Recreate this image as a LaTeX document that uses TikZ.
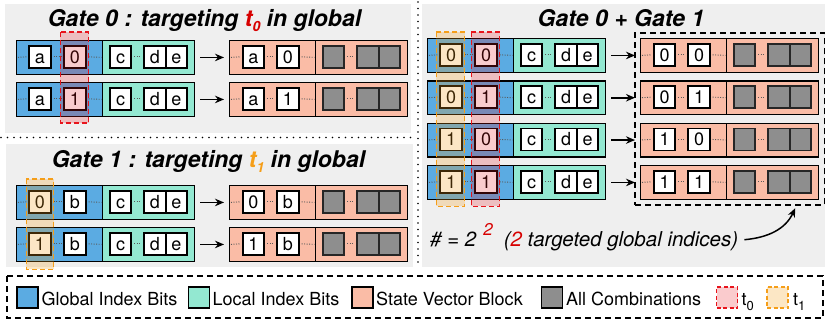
\documentclass[tikz,border=0pt]{standalone}
\usepackage{fontspec}
\setmainfont{TeX Gyre Heros}
\usetikzlibrary{arrows.meta,calc,fit}
\definecolor{gblue}{RGB}{91,171,226}
\definecolor{lteal}{RGB}{147,232,209}
\definecolor{salm}{RGB}{250,188,166}
\definecolor{cgray}{RGB}{142,142,142}
\definecolor{panel}{RGB}{239,239,239}
\definecolor{tred}{RGB}{232,20,28}
\definecolor{torange}{RGB}{245,158,25}
\definecolor{tredtxt}{RGB}{215,0,0}
\tikzset{
 seg/.style={draw=black, line width=1.4pt, minimum height=33.5pt, inner sep=0pt, anchor=north west},
 bitbox/.style={draw=black, fill=white, line width=1.6pt, minimum width=21.5pt, minimum height=22pt, inner sep=0pt, text height=12.9pt, text depth=0pt, font=\fontsize{18}{18}\selectfont},
 combo/.style={draw=black!85, fill=cgray, line width=1.6pt, minimum width=21.5pt, minimum height=22pt, inner sep=0pt},
 dots/.style={draw=black!65, line width=0.9pt, dash pattern=on 1pt off 1.5pt, shorten <=2pt, shorten >=2pt},
 flow/.style={-{Stealth[length=9pt,width=7.5pt]}, line width=1.5pt},
 hlred/.style={draw=tred, fill=tred, fill opacity=0.22, line width=1.6pt, dash pattern=on 5pt off 3pt},
 hlorange/.style={draw=torange, fill=torange, fill opacity=0.25, line width=1.6pt, dash pattern=on 5pt off 3pt},
 panelbg/.style={fill=panel, draw=none},
 sepline/.style={line width=1.8pt, dash pattern=on 0pt off 6.5pt, line cap=round},
 titletext/.style={font=\fontsize{23}{23}\selectfont\bfseries\itshape, inner sep=0pt, anchor=base},
 legbox/.style={draw=black, line width=1.5pt, minimum width=21pt, minimum height=21pt, inner sep=0pt},
 legtext/.style={font=\fontsize{18}{18}\selectfont, inner sep=0pt, anchor=base west},
 groupbox/.style={draw=black, line width=1.6pt, dash pattern=on 6pt off 4pt},
}
\newcommand\qrow[5]{%
\begin{scope}[shift={(#2,#3)}]
\node[seg, fill=gblue, minimum width=86pt] (#1g) at (16,0) {};
\node[seg, fill=lteal, minimum width=92pt] (#1l) at (102,0) {};
\node[bitbox] (#1a) at (40,16.75) {#4};
\node[bitbox] (#1b) at (75,16.75) {#5};
\node[bitbox] (#1c) at (120.5,16.75) {c};
\node[bitbox] (#1d) at (155,16.75) {d};
\node[bitbox] (#1e) at (176.5,16.75) {e};
\node[seg, fill=salm, minimum width=86pt] (#1s) at (229,0) {};
\node[seg, fill=salm, minimum width=92pt] (#1t) at (315,0) {};
\node[bitbox] (#1p) at (253.5,16.75) {#4};
\node[bitbox] (#1q) at (288,16.75) {#5};
\node[combo] (#1x) at (333.5,16.75) {};
\node[combo] (#1y) at (368,16.75) {};
\node[combo] (#1z) at (389.5,16.75) {};
\end{scope}
\draw[dots] (#1g.west) -- (#1a.west);
\draw[dots] (#1a.east) -- (#1b.west);
\draw[dots] (#1b.east) -- (#1g.east);
\draw[dots] (#1c.east) -- (#1d.west);
\draw[dots] (#1s.west) -- (#1p.west);
\draw[dots] (#1p.east) -- (#1q.west);
\draw[dots] (#1q.east) -- (#1s.east);
\draw[dots] (#1x.east) -- (#1y.west);
\draw[flow] ([xshift=5pt]#1l.east) -- ([xshift=-5pt]#1s.west);
}
\begin{document}
\begin{tikzpicture}[x=1pt,y=-1pt]
\useasboundingbox (0,0) rectangle (830,324);
% panels
\fill[panelbg] (5,4) rectangle (411,133);
\fill[panelbg] (6,144) rectangle (413,267);
\fill[panelbg] (422,4) rectangle (825,267);
\draw[sepline] (1,137.5) -- (413,137.5);
\draw[sepline] (418,2) -- (418,268);
% titles
\node[titletext] (title0) at (204.5,27) {Gate 0 : targeting \textcolor{tredtxt}{t\raisebox{-5pt}{\fontsize{14}{14}\selectfont 0}} in global};
\node[titletext] (title1) at (208.5,167) {Gate 1 : targeting \textcolor{torange}{t\raisebox{-5pt}{\fontsize{14}{14}\selectfont 1}} in global};
\node[titletext] (title2) at (621,27) {Gate 0 + Gate 1};
% gate 0 rows
\qrow{r1}{0}{40}{a}{0}
\qrow{r2}{0}{82}{a}{1}
% gate 1 rows
\qrow{s1}{0}{185}{0}{b}
\qrow{s2}{0}{227}{1}{b}
% combined rows
\qrow{q1}{411}{38}{0}{0}
\qrow{q2}{411}{80.3}{0}{1}
\qrow{q3}{411}{122.6}{1}{0}
\qrow{q4}{411}{165}{1}{1}
% highlights
\draw[hlred] ($(r1b.west |- r1g.north)+(-3,-8)$) rectangle ($(r2b.east |- r2g.south)+(2,6)$);
\draw[hlorange] ($(s1a.west |- s1g.north)+(-2,-6)$) rectangle ($(s2a.east |- s2g.south)+(2,7.5)$);
\draw[hlorange] ($(q1a.west |- q1g.north)+(-3,-6)$) rectangle ($(q4a.east |- q4g.south)+(2,6.5)$);
\draw[hlred] ($(q1b.west |- q1g.north)+(-3,-6)$) rectangle ($(q4b.east |- q4g.south)+(2,6.5)$);
% group box
\node[groupbox, fit=(q1s)(q4t), inner sep=5pt] (allc) {};
% note
\node[inner sep=0pt, anchor=base west, font=\fontsize{20.5}{20.5}\selectfont\itshape] (note) at (430,246)
 {\# = 2\hspace{7pt}\raisebox{11pt}{\textcolor{tredtxt}{\fontsize{17}{17}\selectfont 2}}\hspace{11pt}(\textcolor{tredtxt}{2} targeted global indices)};
\coordinate (tip) at ($(allc.south east)+(-30,2.5)$);
\draw[flow] ([xshift=6pt,yshift=-3pt]note.east) to[out=5,in=-115] (tip);
% legend
\draw[groupbox] (7,276) rectangle (823,318);
\node[legbox, fill=gblue] (lg1) at (27.5,297.5) {};
\node[legtext] (lt1) at (41.5,305) {Global Index Bits};
\node[legbox, fill=lteal] (lg2) at (199,297.5) {};
\node[legtext] (lt2) at (212.5,305) {Local Index Bits};
\node[legbox, fill=salm] (lg3) at (362.5,297.5) {};
\node[legtext] (lt3) at (376,305) {State Vector Block};
\node[legbox, fill=cgray] (lg4) at (552,297.5) {};
\node[legtext] (lt4) at (566,305) {All Combinations};
\node[legbox, draw=tred, fill=tred!22, dash pattern=on 4pt off 2.5pt] (lg5) at (727,297.5) {};
\node[legtext] (lt5) at (741.5,305) {t\raisebox{-5pt}{\fontsize{13}{13}\selectfont 0}};
\node[legbox, draw=torange, fill=torange!25, dash pattern=on 4pt off 2.5pt] (lg6) at (777.5,297.5) {};
\node[legtext] (lt6) at (793,305) {t\raisebox{-5pt}{\fontsize{13}{13}\selectfont 1}};
\end{tikzpicture}
\end{document}
